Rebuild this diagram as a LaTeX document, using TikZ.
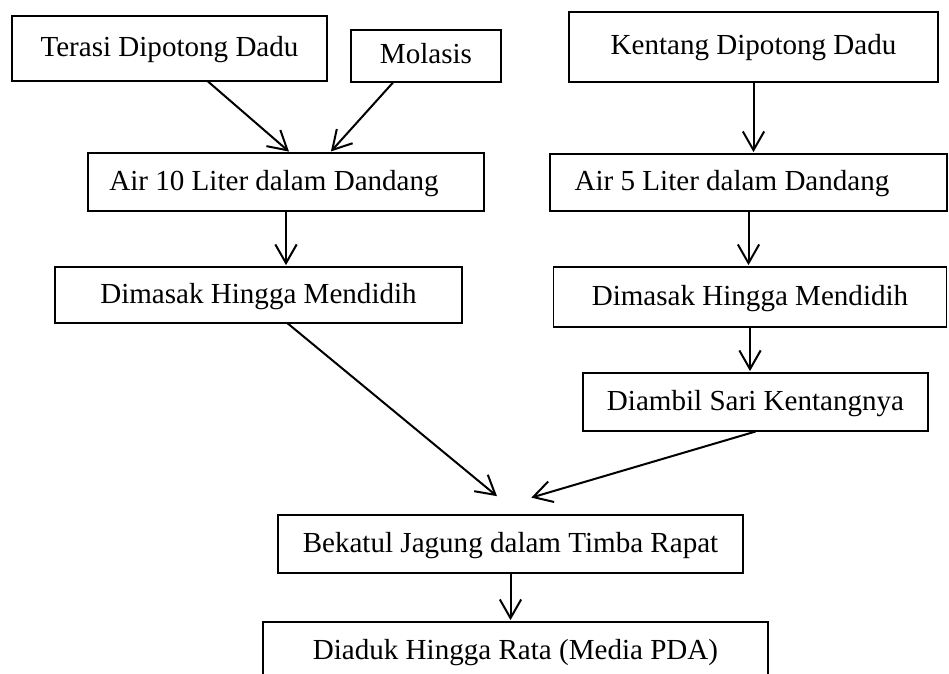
\documentclass[tikz,border=0pt]{standalone}
\usepackage{fontspec}
\setmainfont{Liberation Serif}
\usetikzlibrary{arrows.meta}

\begin{document}
\begin{tikzpicture}[x=0.75pt,y=-0.75pt,
	kotak/.style 2 args={draw,line width=0.8pt,minimum width=#1*0.75pt,minimum height=#2*0.75pt,inner sep=0pt,text height=15pt,text depth=3pt},
	panah/.style={line width=1.5pt,-{Straight Barb[length=14pt,width=16pt]},shorten >=1pt},
	font=\fontsize{21.8}{26}\selectfont]
	\useasboundingbox (0,0) rectangle (949,674);
	\clip (0,0) rectangle (949,674);

	\node[kotak={315}{65}] (terasi) at (169.5,48.5) {Terasi Dipotong Dadu};
	\node[kotak={150}{52}] (molasis) at (426,56) {Molasis};
	\node[kotak={369}{70}] (kentang) at (753.5,47) {Kentang Dipotong Dadu};
	\node[kotak={396}{58}] (air10) at (286,182) {Air 10 Liter dalam Dandang\hspace*{18pt}};
	\node[kotak={397}{57}] (air5) at (748.5,182.5) {Air 5 Liter dalam Dandang\hspace*{24.75pt}};
	\node[kotak={407}{56}] (masak1) at (258.5,295) {Dimasak Hingga Mendidih};
	\node[kotak={393}{60}] (masak2) at (750,297) {Dimasak Hingga Mendidih};
	\node[kotak={345}{58}] (sari) at (755.5,402) {Diambil Sari Kentangnya};
	\node[kotak={465}{58}] (bekatul) at (510.5,544) {Bekatul Jagung dalam Timba Rapat};
	\node[kotak={505}{58}] (aduk) at (515.5,651) {Diaduk Hingga Rata (Media PDA)};

	\coordinate (temukiri) at (498,497);
	\coordinate (temukanan) at (530,498);

	\draw[panah] ([xshift=28.9pt]terasi.south) -- ([xshift=3pt]air10.north);
	\draw[panah] ([xshift=-24.75pt]molasis.south) -- ([xshift=33pt]air10.north);
	\draw[panah] (kentang.south) -- (kentang.south |- air5.north);
	\draw[panah] (air10.south) -- (air10.south |- masak1.north);
	\draw[panah] (air5.south) -- (air5.south |- masak2.north);
	\draw[panah] (masak2.south) -- (masak2.south |- sari.north);
	\draw[panah] ([xshift=22pt]masak1.south) -- (temukiri);
	\draw[panah] (sari.south) -- (temukanan);
	\draw[panah] (bekatul.south) -- (bekatul.south |- aduk.north);
\end{tikzpicture}
\end{document}
